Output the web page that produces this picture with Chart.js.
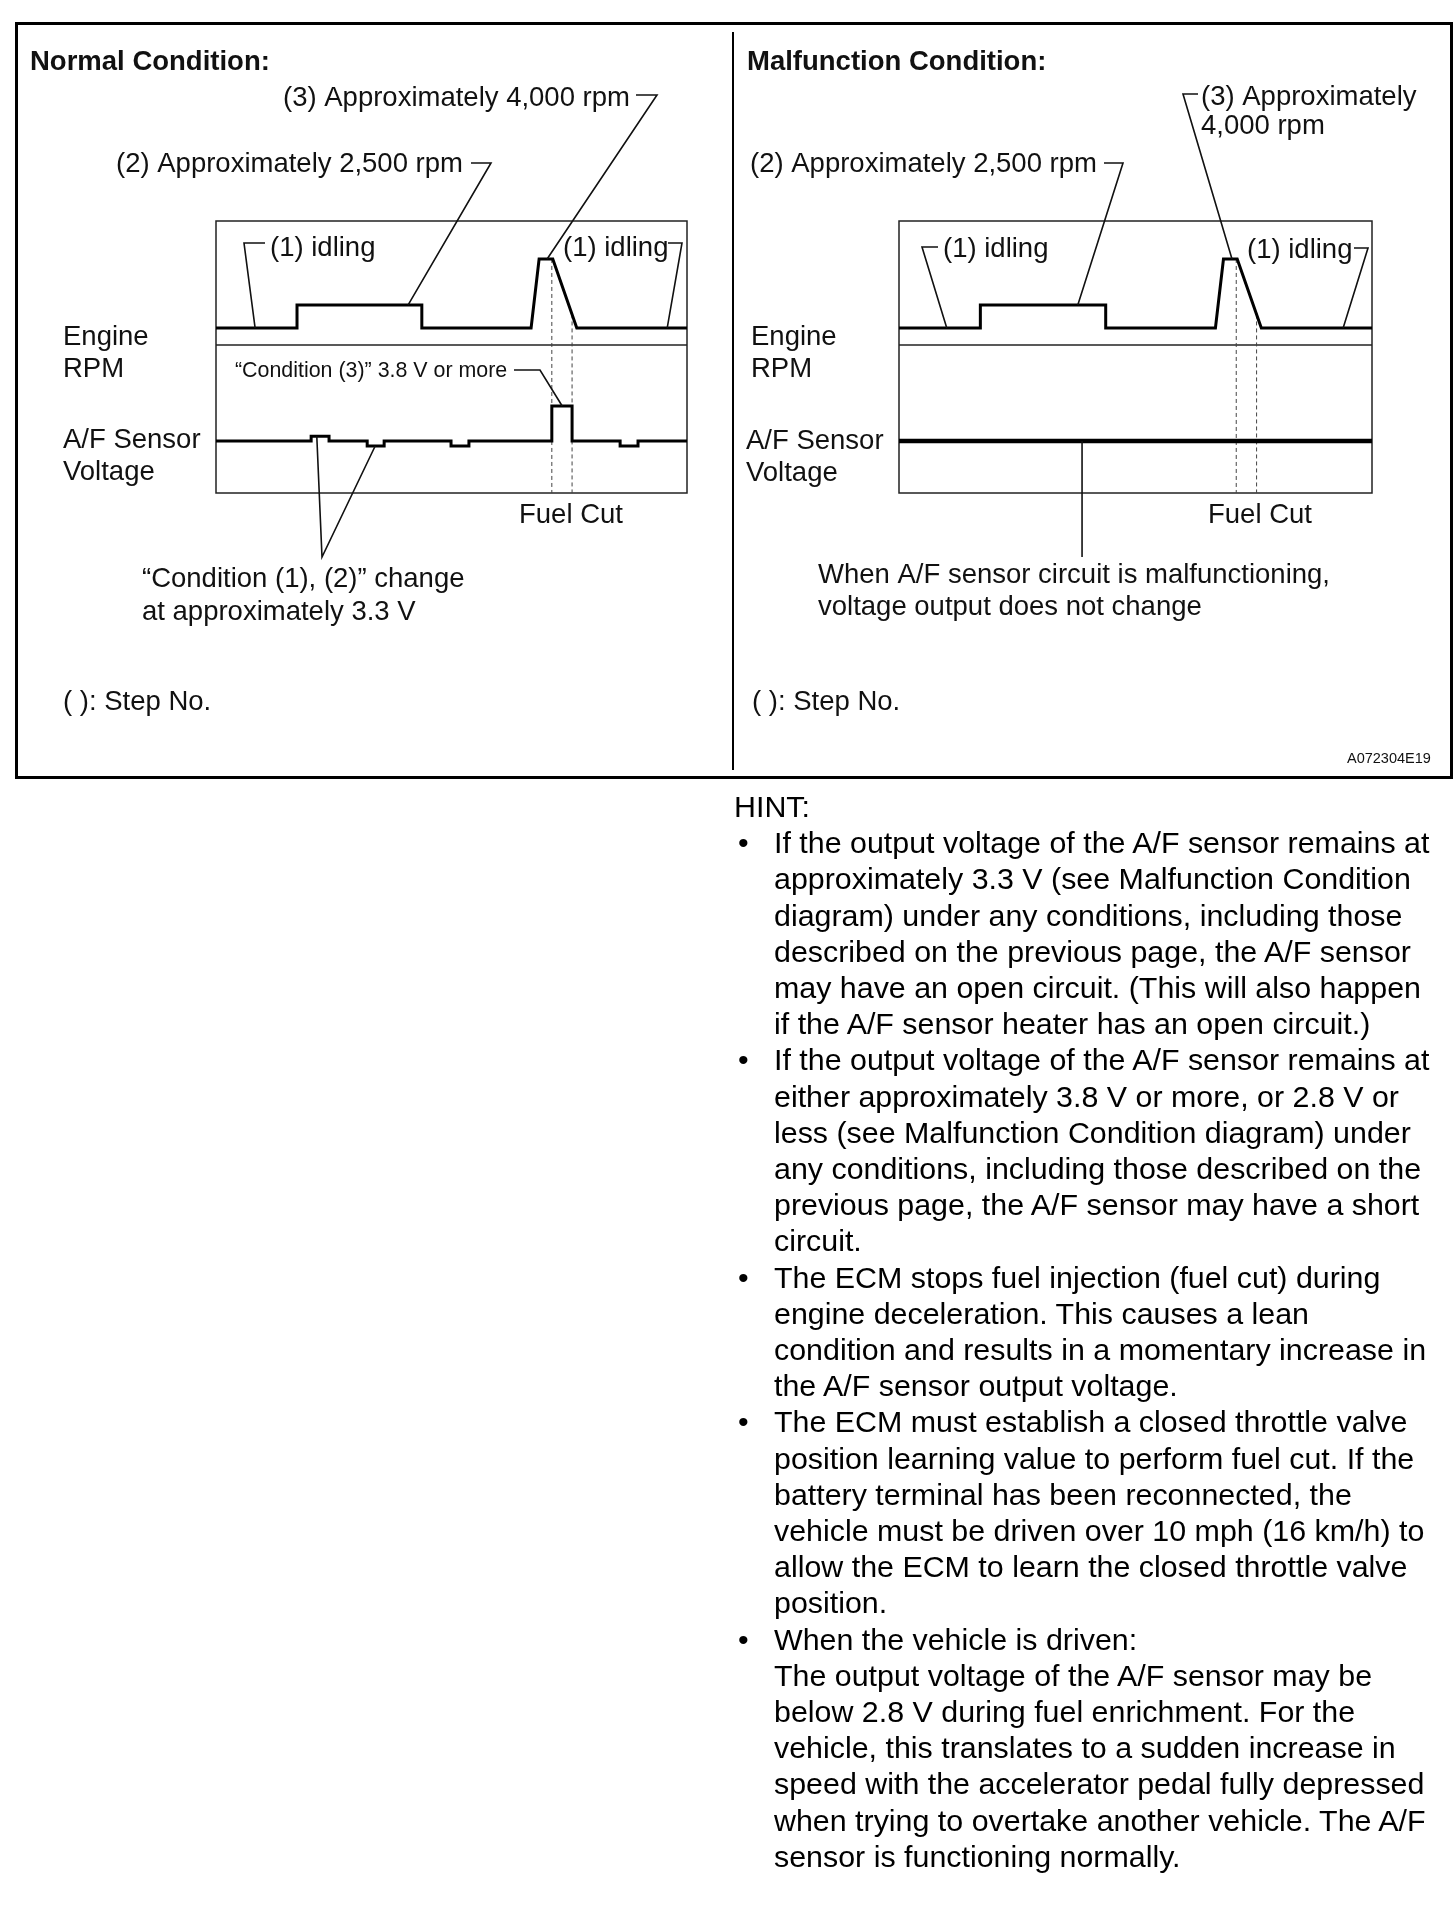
<!DOCTYPE html>
<html>
<head>
<meta charset="utf-8">
<script src="https://cdn.jsdelivr.net/npm/chart.js@4.4.1/dist/chart.umd.min.js"></script>
<style>
  body { margin: 0; background: #fff; width: 1456px; height: 1906px; position: relative; overflow: hidden;
         font-family: "Liberation Sans", Arial, sans-serif; color: #000; }
  #frame { position: absolute; left: 15px; top: 22px; width: 1432px; height: 751px; border: 3px solid #000; }
  #divider { position: absolute; left: 732px; top: 32px; width: 2px; height: 738px; background: #000; }
  canvas { position: absolute; top: 0; }
  #normal { left: 0; }
  #malf { left: 733px; }
  #hint { position: absolute; left: 734px; top: 788px; font-size: 30.4px; line-height: 36.2px; white-space: nowrap; }
  #hint .item { position: relative; padding-left: 40px; }
  #hint .dot { position: absolute; left: 4px; }
</style>
</head>
<body>
<div id="frame"></div>
<div id="divider"></div>
<canvas id="normal" width="733" height="790"></canvas>
<canvas id="malf" width="723" height="790"></canvas>

<div id="hint">
  <div>HINT:</div>
  <div class="item"><span class="dot">•</span>If the output voltage of the A/F sensor remains at<br>approximately 3.3 V (see Malfunction Condition<br>diagram) under any conditions, including those<br>described on the previous page, the A/F sensor<br>may have an open circuit. (This will also happen<br>if the A/F sensor heater has an open circuit.)</div>
  <div class="item"><span class="dot">•</span>If the output voltage of the A/F sensor remains at<br>either approximately 3.8 V or more, or 2.8 V or<br>less (see Malfunction Condition diagram) under<br>any conditions, including those described on the<br>previous page, the A/F sensor may have a short<br>circuit.</div>
  <div class="item"><span class="dot">•</span>The ECM stops fuel injection (fuel cut) during<br>engine deceleration. This causes a lean<br>condition and results in a momentary increase in<br>the A/F sensor output voltage.</div>
  <div class="item"><span class="dot">•</span>The ECM must establish a closed throttle valve<br>position learning value to perform fuel cut. If the<br>battery terminal has been reconnected, the<br>vehicle must be driven over 10 mph (16 km/h) to<br>allow the ECM to learn the closed throttle valve<br>position.</div>
  <div class="item"><span class="dot">•</span>When the vehicle is driven:<br>The output voltage of the A/F sensor may be<br>below 2.8 V during fuel enrichment. For the<br>vehicle, this translates to a sudden increase in<br>speed with the accelerator pedal fully depressed<br>when trying to overtake another vehicle. The A/F<br>sensor is functioning normally.</div>
</div>

<script>
// time runs 0..100 across the box
const rpmTime  = [0, 17.2, 17.2, 43.7, 43.7, 66.9, 68.6, 71.5, 76.6, 100];
// engine speed as drawn: 0 = idling, 1 = approx. 2,500 rpm, 3 = approx. 4,000 rpm (not to scale)
const rpmLevel = [0, 0, 1, 1, 0, 0, 3, 3, 0, 0];

// A/F sensor voltage (V), normal condition
const afTime   = [0, 20.2, 20.2, 24.0, 24.0, 32.1, 32.1, 35.7, 35.7, 49.9, 49.9,
                  53.7, 53.7, 71.3, 71.3, 75.6, 75.6, 85.8, 85.8, 89.6, 89.6, 100];
const afNormal = [3.3, 3.3, 3.37, 3.37, 3.3, 3.3, 3.23, 3.23, 3.3, 3.3, 3.23,
                  3.23, 3.3, 3.3, 3.8, 3.8, 3.3, 3.3, 3.23, 3.23, 3.3, 3.3];

// malfunction: output stays flat
const afMalfTime = [0, 100];
const afMalf     = [3.3, 3.3];

// fuel cut window
const fuelCut = [71.3, 75.6];

const FONT = '27.5px "Liberation Sans", Arial, sans-serif';
const BOLD = 'bold 27.5px "Liberation Sans", Arial, sans-serif';

function toPoints(xs, ys) {
    return xs.map((x, i) => ({ x: x, y: ys[i] }));
}

function levelAt(t) {
    for (let i = 1; i < rpmTime.length; i++) {
        if (t <= rpmTime[i]) {
            const t0 = rpmTime[i - 1], t1 = rpmTime[i];
            if (t1 === t0) return rpmLevel[i];
            return rpmLevel[i - 1] + (rpmLevel[i] - rpmLevel[i - 1]) * (t - t0) / (t1 - t0);
        }
    }
    return rpmLevel[rpmLevel.length - 1];
}

// box, separator, fuel cut marks, leaders and labels
const diagramPlugin = {
    id: "diagram",
    beforeDatasetsDraw(chart, args, o) {
        const ctx = chart.ctx, a = chart.chartArea;
        const x = chart.scales.x, rpm = chart.scales.rpm;
        ctx.save();
        ctx.strokeStyle = "#222";
        ctx.lineWidth = 1.5;
        ctx.strokeRect(a.left, a.top, a.width, a.height);
        ctx.beginPath();
        ctx.moveTo(a.left, rpm.bottom);
        ctx.lineTo(a.right, rpm.bottom);
        ctx.stroke();

        ctx.setLineDash([4, 3]);
        ctx.lineWidth = 1;
        ctx.strokeStyle = "#444";
        fuelCut.forEach(t => {
            const px = x.getPixelForValue(t);
            ctx.beginPath();
            ctx.moveTo(px, rpm.getPixelForValue(levelAt(t)));
            ctx.lineTo(px, a.bottom);
            ctx.stroke();
        });
        ctx.restore();
    },
    afterDraw(chart, args, o) {
        const ctx = chart.ctx;
        const x = chart.scales.x;
        const dx = o.offsetX;
        const at = p => {
            if (Array.isArray(p)) return [p[0] - dx, p[1]];
            const px = x.getPixelForValue(p.t);
            return [px, p.py !== undefined ? p.py : chart.scales[p.axis].getPixelForValue(p.v)];
        };
        ctx.save();
        ctx.strokeStyle = "#111";
        ctx.lineWidth = 1.6;
        o.leaders.forEach(path => {
            ctx.beginPath();
            path.forEach((p, i) => {
                const [px, py] = at(p);
                if (i) ctx.lineTo(px, py); else ctx.moveTo(px, py);
            });
            ctx.stroke();
        });
        ctx.fillStyle = "#111";
        ctx.textBaseline = "alphabetic";
        o.texts.forEach(([s, tx, ty, font]) => {
            ctx.font = font || FONT;
            ctx.fillText(s, tx - dx, ty);
        });
        ctx.restore();
    }
};

function makePanel(id, afX, afY, afWidth, padding, annot) {
    return new Chart(document.getElementById(id).getContext("2d"), {
        type: "line",
        data: {
            datasets: [
                { data: toPoints(rpmTime, rpmLevel), yAxisID: "rpm", borderColor: "#000", borderWidth: 3,
                  pointRadius: 0, tension: 0, borderJoinStyle: "miter", fill: false },
                { data: toPoints(afX, afY), yAxisID: "af", borderColor: "#000", borderWidth: afWidth,
                  pointRadius: 0, tension: 0, borderJoinStyle: "miter", fill: false }
            ]
        },
        options: {
            responsive: false,
            animation: false,
            events: [],
            layout: { padding: padding },
            plugins: { legend: { display: false }, tooltip: { enabled: false }, diagram: annot },
            scales: {
                x: { type: "linear", min: 0, max: 100, display: false },
                rpm: { type: "linear", position: "left", min: -0.74, max: 4.65, display: false,
                       stack: "panel", stackWeight: 124, weight: 2 },
                af: { type: "linear", position: "left", min: 2.56, max: 4.67, display: false,
                      stack: "panel", stackWeight: 148, weight: 1 }
            }
        },
        plugins: [diagramPlugin]
    });
}

makePanel("normal", afTime, afNormal, 3, { left: 216, right: 46, top: 221, bottom: 297 }, {
    offsetX: 0,
    texts: [
        ["Normal Condition:", 30, 70, BOLD],
        ["(3) Approximately 4,000 rpm", 283, 106],
        ["(2) Approximately 2,500 rpm", 116, 172],
        ["(1) idling", 270, 256],
        ["(1) idling", 563, 256],
        ["Engine", 63, 345],
        ["RPM", 63, 377],
        ["A/F Sensor", 63, 448],
        ["Voltage", 63, 480],
        ["\u201cCondition (3)\u201d 3.8 V or more", 235, 377, '21.4px "Liberation Sans", Arial, sans-serif'],
        ["Fuel Cut", 519, 523],
        ["\u201cCondition (1), (2)\u201d change", 142, 587],
        ["at approximately 3.3 V", 142, 620],
        ["( ): Step No.", 63, 710]
    ],
    leaders: [
        [[636, 95], [657, 95], { axis: "rpm", t: 70.3, v: 3 }],
        [[471, 163], [491, 163], { axis: "rpm", t: 40.8, v: 1 }],
        [[265, 243], [244, 243], { axis: "rpm", t: 8.3, v: 0 }],
        [[668, 243], [682, 243], { axis: "rpm", t: 95.8, v: 0 }],
        [[514, 370], [540, 370], { axis: "af", t: 73.5, v: 3.8 }],
        [{ axis: "af", t: 21.4, v: 3.37 }, [322, 557], { axis: "af", t: 33.8, v: 3.23 }]
    ]
});

makePanel("malf", afMalfTime, afMalf, 4.5, { left: 166, right: 84, top: 221, bottom: 297 }, {
    offsetX: 733,
    texts: [
        ["Malfunction Condition:", 747, 70, BOLD],
        ["(3) Approximately", 1201, 105],
        ["4,000 rpm", 1201, 134],
        ["(2) Approximately 2,500 rpm", 750, 172],
        ["(1) idling", 943, 257],
        ["(1) idling", 1247, 258],
        ["Engine", 751, 345],
        ["RPM", 751, 377],
        ["A/F Sensor", 746, 449],
        ["Voltage", 746, 481],
        ["Fuel Cut", 1208, 523],
        ["When A/F sensor circuit is malfunctioning,", 818, 583],
        ["voltage output does not change", 818, 615],
        ["( ): Step No.", 752, 710],
        ["A072304E19", 1347, 763, '14.5px "Liberation Sans", Arial, sans-serif']
    ],
    leaders: [
        [[1198, 94], [1183, 94], { axis: "rpm", t: 70.4, v: 3 }],
        [[1104, 163], [1123, 163], { axis: "rpm", t: 37.8, v: 1 }],
        [[938, 247], [922, 247], { axis: "rpm", t: 10.1, v: 0 }],
        [[1354, 248], [1368, 248], { axis: "rpm", t: 93.9, v: 0 }],
        [{ axis: "af", t: 38.7, v: 3.3 }, { t: 38.7, py: 557 }]
    ]
});
</script>
</body>
</html>
